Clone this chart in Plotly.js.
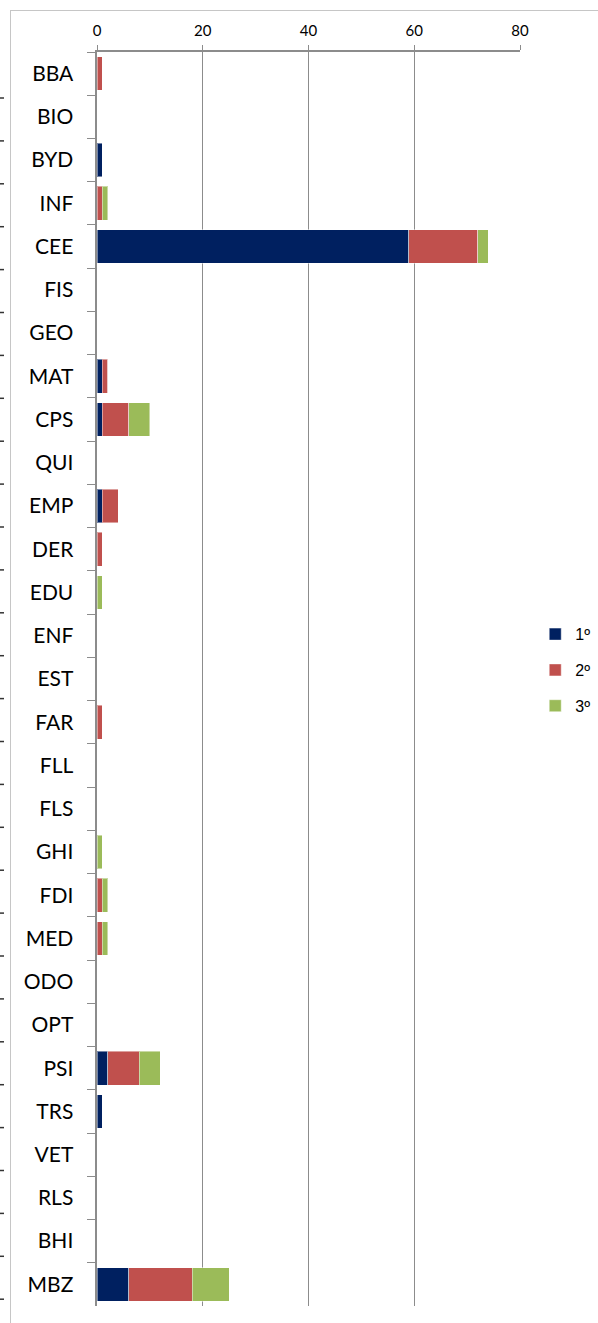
<!DOCTYPE html>
<html>
<head>
<meta charset="utf-8">
<script src="https://cdn.plot.ly/plotly-3.0.1.min.js"></script>
<style>
  html, body { margin: 0; padding: 0; background: #ffffff; overflow: hidden; }
  #frame { position: absolute; left: 10px; top: 10px; width: 700px; height: 1400px; border: 1px solid #c6c6c6; box-sizing: border-box; }
  #chart { position: absolute; left: 0; top: 0; width: 598px; height: 1323px; }
</style>
</head>
<body>
<div id="frame"></div>
<div id="chart"></div>
<script>
const categories = ["BBA","BIO","BYD","INF","CEE","FIS","GEO","MAT","CPS","QUI","EMP","DER","EDU","ENF","EST","FAR","FLL","FLS","GHI","FDI","MED","ODO","OPT","PSI","TRS","VET","RLS","BHI","MBZ"];
const first  = [0,0,1,0,59,0,0,1,1,0,1,0,0,0,0,0,0,0,0,0,0,0,0,2,1,0,0,0,6];
const second = [1,0,0,1,13,0,0,1,5,0,3,1,0,0,0,1,0,0,0,1,1,0,0,6,0,0,0,0,12];
const third  = [0,0,0,1,2,0,0,0,4,0,0,0,1,0,0,0,0,0,1,1,1,0,0,4,0,0,0,0,7];
const seriesNames = ["1º","2º","3º"];
const seriesColors = ["#002060","#C0504D","#9BBB59"];
const xTicks = [0,20,40,60,80];

const font = "Lato, 'Open Sans', sans-serif";
const seriesData = [first, second, third];
const traces = seriesData.map((vals, i) => ({
  type: "bar",
  orientation: "h",
  name: seriesNames[i],
  legendgroup: "g" + i,
  x: vals,
  y: categories,
  marker: { color: seriesColors[i], line: { color: "rgba(255,255,255,0.45)", width: 1 } },
  hoverinfo: "x+y+name"
}));

// decorative stray tick marks at the far left edge of the reference picture
const shapes = [];
for (let k = 0; k < 29; k++) {
  const py = 98 + k * 42.9;
  const yp = 1 - (py - 52) / 1254;
  shapes.push({ type: "line", xref: "paper", yref: "paper",
    x0: -97/423, x1: -93/423, y0: yp, y1: yp,
    line: { color: "#333333", width: 1.5 } });
}

const layout = {
  width: 598, height: 1323,
  margin: { l: 97, r: 78, t: 52, b: 17, autoexpand: false },
  paper_bgcolor: "rgba(0,0,0,0)",
  plot_bgcolor: "rgba(0,0,0,0)",
  barmode: "stack",
  bargap: 0.22,
  font: { family: font, color: "#000000" },
  xaxis: {
    side: "top",
    range: [0, 80],
    tickvals: xTicks,
    ticktext: xTicks.map(String),
    showgrid: true, gridcolor: "#8c8c8c", gridwidth: 1,
    showline: true, linecolor: "#8c8c8c", linewidth: 2,
    ticks: "outside", ticklen: 5, tickcolor: "#8c8c8c",
    tickfont: { size: 15, family: font, color: "#000" },
    ticklabelstandoff: 3,
    zeroline: false,
    automargin: false,
    fixedrange: true
  },
  yaxis: {
    type: "category",
    categoryorder: "array",
    categoryarray: categories,
    autorange: "reversed",
    showgrid: false,
    showline: true, linecolor: "#8c8c8c", linewidth: 2.5,
    ticks: "outside", tickson: "boundaries", ticklen: 8, tickcolor: "#8c8c8c",
    tickfont: { size: 21, family: font, color: "#000" },
    ticklabelstandoff: 17,
    zeroline: false,
    automargin: false,
    fixedrange: true
  },
  legend: {
    x: 1.036, xanchor: "left",
    y: 0.507, yanchor: "middle",
    traceorder: "grouped",
    tracegroupgap: 12,
    font: { size: 16, family: "'Liberation Sans', 'DejaVu Sans', sans-serif", color: "#000" },
    bgcolor: "rgba(0,0,0,0)",
    itemclick: false, itemdoubleclick: false
  },
  shapes: shapes,
  showlegend: true
};

Plotly.newPlot("chart", traces, layout, { displayModeBar: false, staticPlot: true });
</script>
</body>
</html>
